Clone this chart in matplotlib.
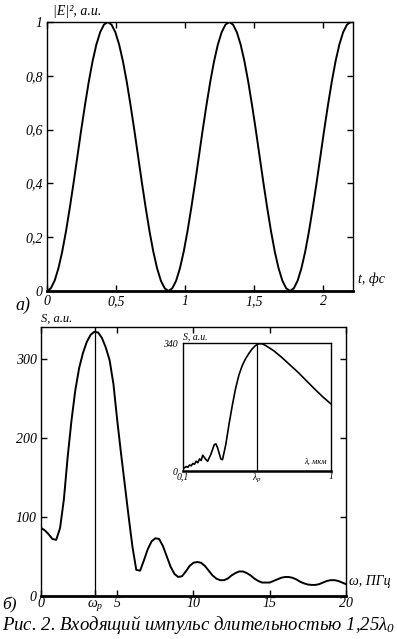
import numpy as np
import matplotlib
matplotlib.use("Agg")
import matplotlib.pyplot as plt

plt.rcParams['font.family'] = ['Liberation Serif', 'DejaVu Serif']
plt.rcParams['font.style'] = 'italic'
plt.rcParams['mathtext.fontset'] = 'custom'
plt.rcParams['mathtext.it'] = 'Liberation Serif:italic'
plt.rcParams['mathtext.rm'] = 'Liberation Serif:italic'

# top panel: |E|^2 vs t (fs), sampled every 0.0275 fs
t_fs = [round(0.0275 * i, 4) for i in range(81)]
half = [0.0, 0.01, 0.038, 0.084, 0.146, 0.222, 0.309, 0.402, 0.5,
        0.598, 0.691, 0.778, 0.854, 0.916, 0.962, 0.99, 1.0,
        0.99, 0.962, 0.916, 0.854, 0.778, 0.691, 0.598, 0.5,
        0.402, 0.309, 0.222, 0.146, 0.084, 0.038, 0.01]
e2 = half + half + half[:17]
top_xticks = [0, 0.5, 1, 1.5, 2]
top_xlabels = ['0', '0,5', '1', '1,5', '2']
top_yticks = [0, 0.2, 0.4, 0.6, 0.8, 1]
top_ylabels = ['0', '0,2', '0,4', '0,6', '0,8', '1']

# bottom panel: spectrum S vs omega (PHz)
omega = [0.0, 0.25, 0.5, 0.75, 1.0, 1.25, 1.5, 1.75, 2.0, 2.25, 2.5, 2.75,
         3.0, 3.25, 3.5, 3.75, 4.0, 4.25, 4.5, 4.75, 5.0, 5.25, 5.5, 5.75,
         6.0, 6.25, 6.5, 6.75, 7.0, 7.25, 7.5, 7.75, 8.0, 8.25, 8.5, 8.75,
         9.0, 9.25, 9.5, 9.75, 10.0, 10.25, 10.5, 10.75, 11.0, 11.25, 11.5,
         11.75, 12.0, 12.25, 12.5, 12.75, 13.0, 13.25, 13.5, 13.75, 14.0,
         14.25, 14.5, 14.75, 15.0, 15.25, 15.5, 15.75, 16.0, 16.25, 16.5,
         16.75, 17.0, 17.25, 17.5, 17.75, 18.0, 18.25, 18.5, 18.75, 19.0,
         19.25, 19.5, 19.75, 20.0]
spec = [86, 83, 78, 72, 71, 86, 122, 176, 222, 260, 288, 307,
        321, 330, 334, 333, 326, 314, 298, 268, 222, 180, 140, 100,
        62, 33, 32, 45, 59, 69, 73, 72, 63, 50, 37, 28,
        24, 25, 31, 38, 42, 43, 42, 38, 32, 26, 22,
        20, 20, 22, 26, 29, 31, 31, 29, 26, 22,
        19, 17, 17, 17, 19, 21, 23, 24, 24, 23,
        21, 18, 16, 14.5, 14, 14, 15, 17, 19, 20,
        20, 19, 17, 15]
omega_p = 3.55
s_peak = 334
bot_xticks = [0, omega_p, 5, 10, 15, 20]
bot_xlabels = ['0', r'$\omega_p$', '5', '10', '15', '20']
bot_yticks = [0, 100, 200, 300]
bot_ylabels = ['0', '100', '200', '300']

# inset: S vs lambda (um)
lam = [0.10, 0.12, 0.13, 0.14, 0.15, 0.16, 0.17, 0.18, 0.19, 0.20, 0.21,
       0.22, 0.24, 0.25, 0.27, 0.29, 0.30, 0.31, 0.33, 0.34, 0.36, 0.38,
       0.40, 0.42, 0.44, 0.46, 0.48, 0.50, 0.52, 0.54, 0.56, 0.58, 0.60,
       0.65, 0.70, 0.75, 0.80, 0.85, 0.90, 0.95, 1.00]
spec_lam = [6, 12, 10, 16, 14, 20, 18, 26, 22, 32, 28,
            42, 30, 26, 45, 70, 72, 62, 32, 30, 70, 125,
            175, 220, 255, 280, 298, 312, 324, 333, 338, 338, 334,
            320, 302, 282, 262, 240, 218, 197, 178]
lam_p = 0.55
ins_xticks = [0.1, lam_p, 1]
ins_xlabels = ['0,1', r'$\lambda_p$', '1']

fig = plt.figure(figsize=(3.97, 6.39), dpi=100)

ax1 = fig.add_axes([0.1184, 0.5446, 0.771, 0.421])
ax1.plot(t_fs, e2, color='black', lw=1.4)
ax1.set_xlim(0, 2.217)
ax1.set_ylim(0, 1)
ax1.set_xticks(top_xticks, top_xlabels)
ax1.set_yticks(top_yticks, top_ylabels)
ax1.tick_params(axis='x', pad=3)
ax1.text(0.02, 1.015, '|E|², a.u.', transform=ax1.transAxes, fontsize=10, va='bottom')
ax1.text(1.015, 0.02, 't, фс', transform=ax1.transAxes, fontsize=10, va='bottom')
fig.text(0.04, 0.515, 'а)', fontsize=13)

ax2 = fig.add_axes([0.1033, 0.0673, 0.768, 0.421])
ax2.plot(omega, spec, color='black', lw=1.4)
ax2.plot([omega_p, omega_p], [0, s_peak], color='black', lw=0.9)
ax2.set_xlim(0, 20)
ax2.set_ylim(0, 340)
ax2.set_xticks(bot_xticks, bot_xlabels)
ax2.set_yticks(bot_yticks, bot_ylabels)
ax2.text(0.0, 1.01, 'S, a.u.', transform=ax2.transAxes, fontsize=9, va='bottom')
ax2.text(1.01, 0.03, 'ω, ПГц', transform=ax2.transAxes, fontsize=10, va='bottom')
fig.text(0.005, 0.047, 'б)', fontsize=12.5)

for ax in (ax1, ax2):
    ax.tick_params(direction='in', top=True, right=True, length=4, width=1,
                   labelsize=10)
    ax.tick_params(axis='y', pad=3)
    for s in ax.spines.values():
        s.set_linewidth(1.0)
    ax.spines['bottom'].set_linewidth(2.0)
ax2.tick_params(axis='x', pad=1)

ax3 = fig.add_axes([0.461, 0.2629, 0.3728, 0.2003])
ax3.plot(lam, spec_lam, color='black', lw=1.2)
ax3.plot([lam_p, lam_p], [0, 340], color='black', lw=0.9)
ax3.set_xlim(0.1, 1)
ax3.set_ylim(0, 340)
ax3.set_xticks(ins_xticks, ins_xlabels)
ax3.set_yticks([0, 340], ['0', '340'])
ax3.tick_params(direction='in', length=0, labelsize=7)
ax3.tick_params(axis='x', pad=1)
ax3.tick_params(axis='y', pad=4)
for s in ax3.spines.values():
    s.set_linewidth(1.0)
ax3.spines['bottom'].set_linewidth(1.8)
ax3.text(0.0, 1.01, 'S, a.u.', transform=ax3.transAxes, fontsize=7, va='bottom')
ax3.text(0.97, 0.04, 'λ, мкм', transform=ax3.transAxes, fontsize=6, ha='right', va='bottom')

fig.text(0.5, 0.004, 'Рис. 2. Входящий импульс длительностью 1,25$\\lambda_0$',
         fontsize=13.5, ha='center', va='bottom')

fig.savefig('out.png', dpi=100)
